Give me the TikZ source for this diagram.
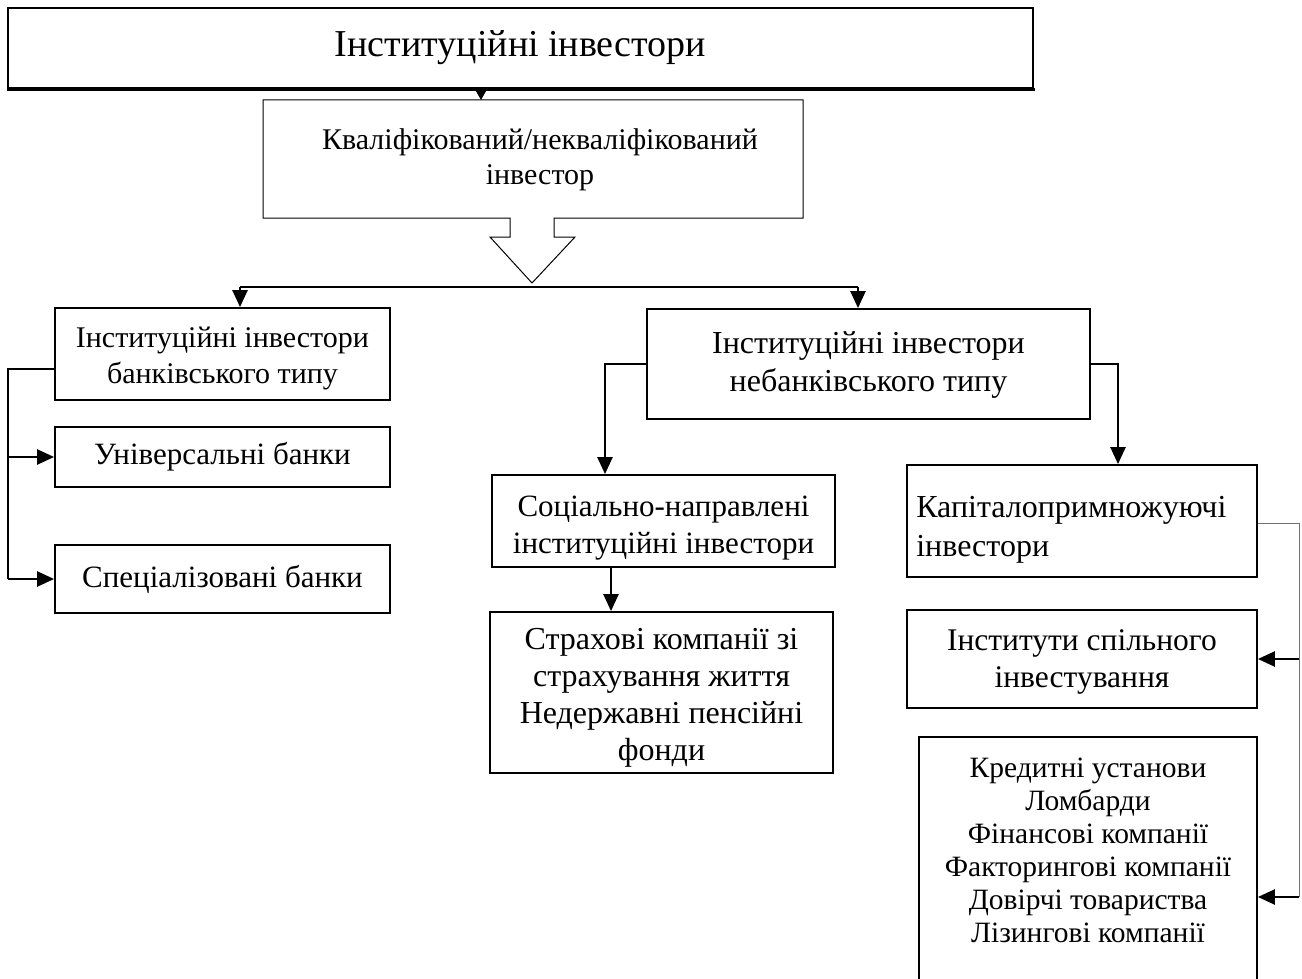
\documentclass[tikz,border=0pt]{standalone}
\usepackage{fontspec}
\setmainfont{Liberation Serif}
\usetikzlibrary{arrows.meta,calc}
\begin{document}
\begin{tikzpicture}[x=1pt,y=-1pt,
  box/.style={draw,line width=1.8pt,inner sep=0pt,align=center},
  txt/.style={inner sep=0pt,align=center},
  conn/.style={line width=2.4pt},
  arr/.style={line width=2.4pt,-{Triangle[length=17pt,width=15pt]}},
  thin/.style={line width=1pt,black!55},
  f31/.style={font=\fontsize{31}{37}\selectfont},
  f30/.style={font=\fontsize{30}{36}\selectfont},
]
\useasboundingbox (0,0) rectangle (1302,979);
\begin{scope}
\clip (0,0) rectangle (1302,979);
% top
\node[box,line width=2pt,minimum width=1025pt,minimum height=80pt,font=\fontsize{38}{44}\selectfont] (top) at (520.5,48) {Інституційні інвестори};
% qualified box (outline drawn together with the hollow arrow)
\coordinate (q) at (540,159);
\draw[line width=1pt,fill=white] (263,100) coordinate (qnw) -- (263,218) -- (510,218) -- (510,237) -- (490,237) -- (532,283) coordinate (tip) -- (575,237) -- (554,237) -- (554,218) -- (803,218) -- (803,100) coordinate (qne) -- cycle;
\node[txt,font=\fontsize{30}{35}\selectfont] (qt) at ([yshift=-1pt]q) {Кваліфікований/некваліфікований\\інвестор};
% level 2
\node[box,minimum width=335pt,minimum height=92pt] (A) at (222.5,354) {};
\node[txt,f30] (At) at ([yshift=-4.5pt]A.center) {Інституційні інвестори\\банківського типу};
\node[box,minimum width=443pt,minimum height=110pt] (B) at (868.5,364) {};
\node[txt,font=\fontsize{32}{38}\selectfont] (Bt) at ([yshift=-1pt]B.center) {Інституційні інвестори\\небанківського типу};
\node[box,f31,minimum width=335pt,minimum height=60pt] (U) at (222.5,457) {Універсальні банки};
\node[box,f31,minimum width=335pt,minimum height=68pt] (S) at (222.5,579) {Спеціалізовані банки};
\node[box,minimum width=343pt,minimum height=92pt] (C) at (663.5,521) {};
\node[txt,f31] (Ct) at ([yshift=-7pt]C.center) {Соціально-направлені\\інституційні інвестори};
\node[box,minimum width=343pt,minimum height=161pt] (E) at (661.5,692.5) {};
\node[txt,font=\fontsize{32}{37}\selectfont] (Et) at ([yshift=-5pt]E.center) {Страхові компанії зі\\страхування життя\\Недержавні пенсійні\\фонди};
\node[box,minimum width=350pt,minimum height=112pt] (D) at (1082,521) {};
\node[txt,align=left,anchor=west,font=\fontsize{32}{39}\selectfont] (Dt) at ([xshift=10pt,yshift=-9pt]D.west) {Капіталопримножуючі\\інвестори};
\node[box,minimum width=350pt,minimum height=98pt] (F) at (1082,659) {};
\node[txt,font=\fontsize{31.5}{37}\selectfont] (Ft) at ([yshift=-3pt]F.center) {Інститути спільного\\інвестування};
\node[box,minimum width=338pt,minimum height=262pt] (Gbox) at (1088,868) {};
\node[txt,font=\fontsize{29.5}{33}\selectfont] (G) at (1088,850) {Кредитні установи\\Ломбарди\\Фінансові компанії\\Факторингові компанії\\Довірчі товариства\\Лізингові компанії};
% coordinates
\coordinate (x481) at (481,0);
\coordinate (x240) at (240,0);
\coordinate (x858) at (858,0);
\coordinate (y287) at (0,287);
\coordinate (xL) at (8,0);
\coordinate (x605) at (605,0);
\coordinate (x1118) at (1118,0);
\coordinate (x611) at (611,0);
\coordinate (xR) at (1299,0);
\coordinate (y897) at (0,897);
% connectors
\draw[line width=1.5pt,-{Triangle[length=11pt,width=12pt]}] (x481 |- top.south) -- (x481 |- qnw);
\draw[line width=3pt] ([yshift=-1pt]top.south west) -- ([yshift=-1pt,xshift=1pt]top.south east);
\draw[conn] (x240 |- y287) -- (x858 |- y287);
\draw[arr] (x240 |- y287) -- (x240 |- A.north);
\draw[arr] (x858 |- y287) -- (x858 |- B.north);
\draw[conn] ([yshift=-15pt]A.west) -| (xL |- S.west);
\draw[arr] (xL |- S.west) -- (S.west);
\draw[arr] (xL |- U.west) -- (U.west);
\draw[arr] (B.west) -| (x605 |- C.north);
\draw[arr] (B.east) -| (x1118 |- D.north);
\draw[arr] (x611 |- C.south) -- (x611 |- E.north);
\draw[thin] ([yshift=-2pt]D.east) -| (xR |- y897);
\draw[arr] (xR |- F.east) -- (F.east);
\draw[arr] (xR |- y897) -- (Gbox.east |- y897);
\end{scope}
\end{tikzpicture}
\end{document}
